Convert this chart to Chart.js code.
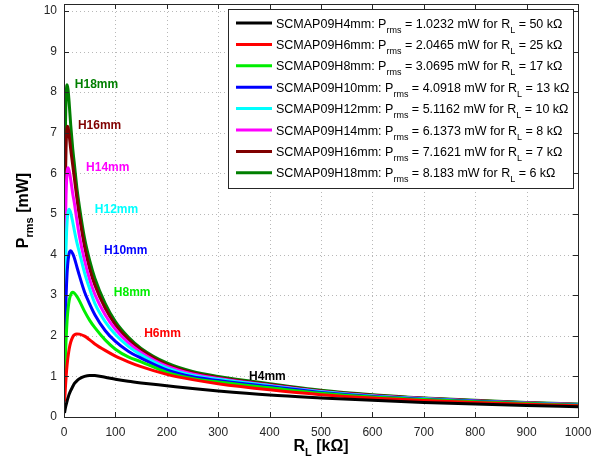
<!DOCTYPE html>
<html><head><meta charset="utf-8">
<style>html,body{margin:0;padding:0;background:#fff;}#wrap{width:606px;height:462px;position:relative;}</style>
<script src="https://cdn.jsdelivr.net/npm/chart.js@4/dist/chart.umd.min.js"></script>
</head><body><div id="wrap"><canvas id="c" width="606" height="462"></canvas></div>
<script>
// ---- data ----
const loadResistance = [1,2,3,4,5,6,7,8,10,13,17,20,25,30,40,50,60,80,100,125,150,200,250,300,400,500,600,700,800,900,1000];
const pH4mm  = [0.10,0.17,0.24,0.29,0.34,0.39,0.44,0.48,0.56,0.65,0.75,0.82,0.89,0.94,1.00,1.023,1.02,0.98,0.93,0.88,0.84,0.77,0.70,0.64,0.54,0.47,0.41,0.36,0.32,0.285,0.255];
const pH6mm  = [0.38,0.56,0.78,0.97,1.14,1.28,1.40,1.50,1.67,1.84,1.97,2.02,2.0465,2.04,1.99,1.90,1.80,1.64,1.50,1.36,1.24,1.05,0.92,0.82,0.67,0.55,0.465,0.405,0.355,0.315,0.28];
const pH8mm  = [0.78,1.16,1.56,1.89,2.15,2.37,2.54,2.67,2.86,3.01,3.0695,3.05,2.97,2.86,2.60,2.38,2.20,1.90,1.67,1.48,1.36,1.10,0.95,0.86,0.72,0.585,0.49,0.43,0.375,0.33,0.29];
const pH10mm = [1.28,1.89,2.49,2.94,3.28,3.54,3.72,3.86,4.03,4.0918,4.02,3.92,3.70,3.48,3.08,2.78,2.52,2.13,1.86,1.62,1.45,1.16,0.99,0.90,0.75,0.605,0.505,0.44,0.385,0.335,0.295];
const pH12mm = [1.88,2.84,3.63,4.18,4.55,4.80,4.96,5.05,5.1162,5.03,4.80,4.60,4.30,4.05,3.55,3.15,2.80,2.35,2.03,1.74,1.53,1.21,1.03,0.93,0.77,0.62,0.515,0.45,0.39,0.34,0.30];
const pH14mm = [2.60,3.93,4.87,5.46,5.81,6.01,6.11,6.1373,6.06,5.85,5.50,5.28,4.85,4.45,3.85,3.38,3.02,2.52,2.16,1.83,1.59,1.25,1.06,0.95,0.78,0.63,0.525,0.455,0.395,0.345,0.305];
const pH16mm = [3.40,4.95,6.02,6.63,6.96,7.12,7.1621,7.13,6.95,6.60,6.20,5.90,5.40,4.95,4.20,3.65,3.25,2.68,2.27,1.91,1.65,1.29,1.09,0.97,0.80,0.64,0.535,0.46,0.40,0.35,0.31];
const pH18mm = [4.20,6.15,7.27,7.86,8.12,8.183,8.13,8.05,7.75,7.20,6.60,6.25,5.65,5.18,4.40,3.85,3.42,2.80,2.35,1.97,1.69,1.33,1.12,1.00,0.82,0.66,0.55,0.47,0.41,0.36,0.32];

const seriesNames   = ['SCMAP09H4mm','SCMAP09H6mm','SCMAP09H8mm','SCMAP09H10mm','SCMAP09H12mm','SCMAP09H14mm','SCMAP09H16mm','SCMAP09H18mm'];
const shortNames    = ['H4mm','H6mm','H8mm','H10mm','H12mm','H14mm','H16mm','H18mm'];
const peakPowerText = ['1.0232','2.0465','3.0695','4.0918','5.1162','6.1373','7.1621','8.183'];
const optimalLoad   = ['50','25','17','13','10','8','7','6'];
const labelR = [360,156,97,78,60,43,27,21];
const labelP = [1.00,2.04,3.05,4.09,5.10,6.13,7.17,8.18];
const xTicks = [0,100,200,300,400,500,600,700,800,900,1000];
const yTicks = [0,1,2,3,4,5,6,7,8,9,10];

// ---- styles ----
const allSeries = [pH4mm,pH6mm,pH8mm,pH10mm,pH12mm,pH14mm,pH16mm,pH18mm];
const colors = ['#000000','#ff0000','#00ee00','#0000ff','#00ffff','#ff00ff','#800000','#007f00'];
const FONT = '"Liberation Sans", Arial, Helvetica, sans-serif';

function drawRich(ctx, x, y, parts, size, subSize, bold, subOff) {
  let cx = x;
  parts.forEach(p => {
    ctx.font = (bold ? 'bold ' : '') + (p.sub ? subSize : size) + 'px ' + FONT;
    ctx.fillText(p.t, cx, y + (p.sub ? subOff : 0));
    cx += ctx.measureText(p.t).width;
  });
  return cx - x;
}
function measureRich(ctx, parts, size, subSize, bold) {
  let w = 0;
  parts.forEach(p => {
    ctx.font = (bold ? 'bold ' : '') + (p.sub ? subSize : size) + 'px ' + FONT;
    w += ctx.measureText(p.t).width;
  });
  return w;
}
function noPad(s) { s.paddingTop = 0; s.paddingBottom = 0; s.paddingLeft = 0; s.paddingRight = 0; }

const decor = {
  id: 'decor',
  beforeDatasetsDraw(chart) {
    const {ctx, chartArea: a, scales: {x, y}} = chart;
    ctx.save();
    ctx.strokeStyle = '#b8b8b8'; ctx.lineWidth = 1; ctx.setLineDash([1, 3]);
    xTicks.forEach(v => {
      const px = Math.round(x.getPixelForValue(v)) + 0.5;
      ctx.beginPath(); ctx.moveTo(px, a.top); ctx.lineTo(px, a.bottom); ctx.stroke();
    });
    yTicks.forEach(v => {
      const py = Math.round(y.getPixelForValue(v)) + 0.5;
      ctx.beginPath(); ctx.moveTo(a.left, py); ctx.lineTo(a.right, py); ctx.stroke();
    });
    ctx.restore();
  },
  afterDatasetsDraw(chart) {
    const {ctx, chartArea: a, scales: {x, y}} = chart;
    ctx.save();
    ctx.strokeStyle = '#262626'; ctx.lineWidth = 1; ctx.setLineDash([]);
    ctx.strokeRect(Math.round(a.left) + 0.5, Math.round(a.top) + 0.5, Math.round(a.right - a.left), Math.round(a.bottom - a.top));
    const tl = 5;
    xTicks.forEach(v => {
      const px = Math.round(x.getPixelForValue(v)) + 0.5;
      ctx.beginPath();
      ctx.moveTo(px, a.bottom); ctx.lineTo(px, a.bottom - tl);
      ctx.moveTo(px, a.top); ctx.lineTo(px, a.top + tl);
      ctx.stroke();
    });
    yTicks.forEach(v => {
      const py = Math.round(y.getPixelForValue(v)) + 0.5;
      ctx.beginPath();
      ctx.moveTo(a.left, py); ctx.lineTo(a.left + tl, py);
      ctx.moveTo(a.right, py); ctx.lineTo(a.right - tl, py);
      ctx.stroke();
    });
    ctx.textBaseline = 'middle'; ctx.textAlign = 'left';
    ctx.font = 'bold 12px ' + FONT;
    shortNames.forEach((n, i) => {
      ctx.fillStyle = colors[i];
      ctx.fillText(n, x.getPixelForValue(labelR[i]), y.getPixelForValue(labelP[i]));
    });
    const bx = a.right - 350, by = a.top + 5, bw = 345, bh = 179;
    ctx.fillStyle = '#ffffff';
    ctx.fillRect(bx, by, bw, bh);
    ctx.strokeStyle = '#262626'; ctx.lineWidth = 1;
    ctx.strokeRect(Math.round(bx) + 0.5, Math.round(by) + 0.5, bw, bh);
    ctx.textBaseline = 'alphabetic';
    seriesNames.forEach((n, i) => {
      const cy = by + 14 + i * 21.4;
      ctx.strokeStyle = colors[i]; ctx.lineWidth = 3;
      ctx.beginPath(); ctx.moveTo(bx + 8, cy); ctx.lineTo(bx + 44, cy); ctx.stroke();
      ctx.fillStyle = '#000000';
      drawRich(ctx, bx + 48, cy + 4.5, [
        {t: n + ': P'}, {t: 'rms', sub: true},
        {t: ' = ' + peakPowerText[i] + ' mW for R'}, {t: 'L', sub: true},
        {t: ' = ' + optimalLoad[i] + ' k\u03A9'}
      ], 12.5, 9, false, 5);
    });
    ctx.restore();
  },
  afterDraw(chart) {
    const {ctx, chartArea: a} = chart;
    ctx.save();
    ctx.fillStyle = '#000000';
    ctx.textBaseline = 'alphabetic';
    const xParts = [{t: 'R'}, {t: 'L', sub: true}, {t: ' [k\u03A9]'}];
    const xw = measureRich(ctx, xParts, 16, 11, true);
    drawRich(ctx, (a.left + a.right) / 2 - xw / 2, 451, xParts, 16, 11, true, 5);
    const yParts = [{t: 'P'}, {t: 'rms', sub: true}, {t: ' [mW]'}];
    const yw = measureRich(ctx, yParts, 16, 11, true);
    ctx.translate(28, (a.top + a.bottom) / 2);
    ctx.rotate(-Math.PI / 2);
    drawRich(ctx, -yw / 2, 0, yParts, 16, 11, true, 5);
    ctx.restore();
  }
};

const datasets = allSeries.map((arr, i) => ({
  label: seriesNames[i],
  data: loadResistance.map((r, k) => ({x: r, y: arr[k]})),
  borderColor: colors[i],
  backgroundColor: colors[i],
  borderWidth: 3,
  pointRadius: 0,
  fill: false,
  cubicInterpolationMode: 'monotone'
}));

new Chart(document.getElementById('c'), {
  type: 'line',
  data: {datasets},
  options: {
    responsive: false,
    animation: false,
    devicePixelRatio: 1,
    layout: {padding: {left: 0, right: 28, top: 4, bottom: 0}},
    plugins: {legend: {display: false}, tooltip: {enabled: false}},
    scales: {
      x: {
        type: 'linear', min: 0, max: 1000,
        afterBuildTicks: s => { s.ticks = xTicks.map(v => ({value: v})); },
        afterFit: s => { s.height = 45; noPad(s); },
        grid: {display: false, drawTicks: false},
        border: {display: false},
        ticks: {font: {size: 12, family: FONT}, color: '#262626', padding: 8, maxRotation: 0, autoSkip: false,
                callback: v => String(v)}
      },
      y: {
        type: 'linear', min: 0, max: 10.17,
        afterBuildTicks: s => { s.ticks = yTicks.map(v => ({value: v})); },
        afterFit: s => { s.width = 64; noPad(s); },
        grid: {display: false, drawTicks: false},
        border: {display: false},
        ticks: {font: {size: 12, family: FONT}, color: '#262626', padding: 7, callback: v => String(v)}
      }
    }
  },
  plugins: [decor]
});
</script>
</body></html>
